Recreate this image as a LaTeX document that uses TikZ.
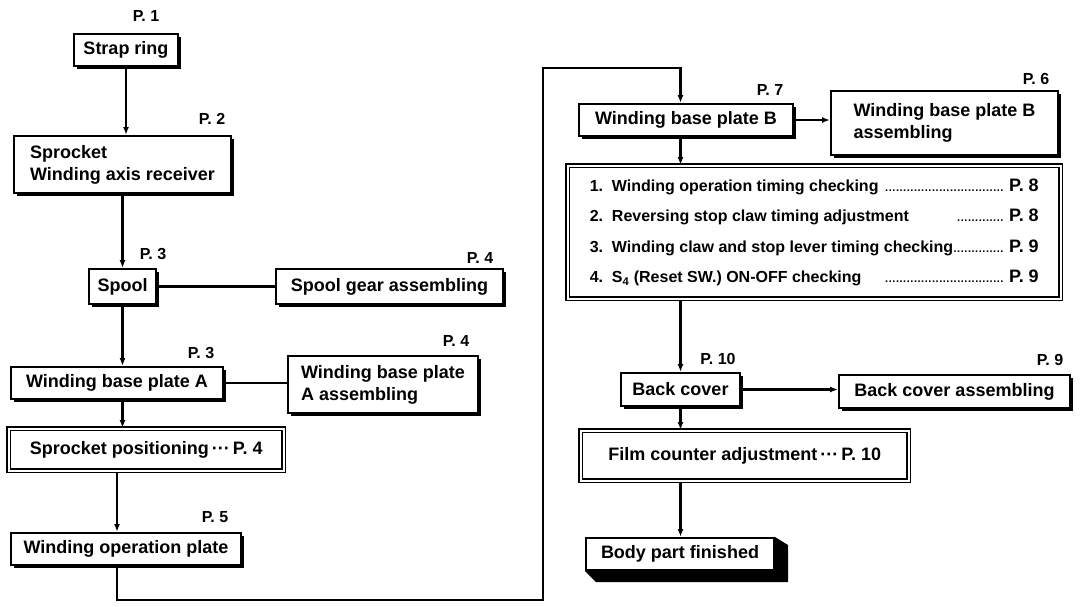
\documentclass[tikz,border=0pt]{standalone}
\usepackage{fontspec}
\setmainfont{Liberation Sans}
\usetikzlibrary{shadows,backgrounds,arrows.meta,calc}

\newcommand{\finedots}{\leaders\hbox to 3.6pt{\hss\fontsize{11}{11}\selectfont.\hss}\hfill}
\newcommand{\checkline}[2]{\hbox to 449pt{#1\finedots\ {\fontsize{18}{18}\selectfont #2}}}

\begin{document}
\begin{tikzpicture}[x=1pt, y=-1pt, line width=2.2pt, >={Latex[length=8pt,width=6pt]}]
  % --- Styles ---
  \tikzset{
    stepbox/.style={draw, fill=white, line width=2pt, anchor=north west,
      font=\fontsize{18}{22}\selectfont\bfseries, inner sep=4pt,
      drop shadow={shadow xshift=2.5pt, shadow yshift=-2.5pt, fill=black, opacity=1}},
    checkbox/.style={stepbox, double, double distance=2.2pt, line width=1.5pt},
    pagelabel/.style={font=\fontsize{16}{18}\selectfont\bfseries, inner sep=0pt},
  }
  \useasboundingbox (0,0) rectangle (1087,606);

  % --- Left column ---
  \node[stepbox, minimum width=104pt, minimum height=32pt] (strap) at (73,33) {Strap ring};
  \node[stepbox, minimum width=217pt, minimum height=57pt, align=left] (sprocket) at (13,135)
    {Sprocket\\Winding axis receiver};
  \node[stepbox, minimum width=67pt, minimum height=35pt] (spool) at (88,268) {Spool};
  \node[stepbox, minimum width=227pt, minimum height=35pt] (spoolgear) at (275,268) {Spool gear assembling};
  \node[stepbox, minimum width=212pt, minimum height=32pt] (wbpa) at (10,366) {Winding base plate A};
  \node[stepbox, minimum width=190pt, minimum height=57pt, align=left] (wbpaasm) at (287,355)
    {Winding base plate\\A assembling};
  \node[checkbox, minimum width=275pt, minimum height=42pt] (sprpos) at (8,428) {Sprocket positioning\,···\,P. 4};
  \node[stepbox, minimum width=230pt, minimum height=32pt] (wop) at (10,532) {Winding operation plate};

  % --- Right column ---
  \node[stepbox, minimum width=214pt, minimum height=32pt] (wbpb) at (578,103) {Winding base plate B};
  \node[stepbox, minimum width=227pt, minimum height=64pt, align=left] (wbpbasm) at (830,90)
    {Winding base plate B\\assembling};
  \node[checkbox, minimum width=493pt, minimum height=133pt, align=left,
    font=\fontsize{16}{30.5}\selectfont\bfseries] (list) at (567,165)
    {\checkline{1.\ \ Winding operation timing checking\ }{P. 8}\\
     \checkline{2.\ \ Reversing stop claw timing adjustment\qquad\quad}{P. 8}\\
     \checkline{3.\ \ Winding claw and stop lever timing checking}{P. 9}\\
     \checkline{4.\ \ S\textsubscript{4} (Reset SW.) ON-OFF checking\quad\ }{P. 9}};
  \node[stepbox, minimum width=119pt, minimum height=33pt] (back) at (620,372) {Back cover};
  \node[stepbox, minimum width=231pt, minimum height=33pt] (backasm) at (838,374) {Back cover assembling};
  \node[checkbox, minimum width=328pt, minimum height=50pt] (film) at (580,430) {Film counter adjustment\,···\,P. 10};
  \node[draw, fill=white, line width=2pt, anchor=north west, minimum width=188pt, minimum height=32pt,
    font=\fontsize{18}{22}\selectfont\bfseries] (body) at (585,537) {Body part finished};
  \begin{scope}[on background layer]
    \fill (body.north east) -- ++(13,8) |- ($(body.south west)+(11,11)$) -- (body.south west) -- cycle;
  \end{scope}

  % --- Page labels ---
  \node[pagelabel] (p1) at (146,16) {P. 1};
  \node[pagelabel] (p2) at (212,119) {P. 2};
  \node[pagelabel] (p3a) at (153,254) {P. 3};
  \node[pagelabel] (p4a) at (480,258) {P. 4};
  \node[pagelabel] (p3b) at (201,353) {P. 3};
  \node[pagelabel] (p4b) at (456,341) {P. 4};
  \node[pagelabel] (p5) at (215,517) {P. 5};
  \node[pagelabel] (p7) at (770,90) {P. 7};
  \node[pagelabel] (p6) at (1036,79) {P. 6};
  \node[pagelabel] (p10) at (718,359) {P. 10};
  \node[pagelabel] (p9) at (1050,360) {P. 9};

  % --- Connectors ---
  \coordinate (bottomleft) at (117,600);
  \coordinate (topright) at (543,68);
  \draw[->] (strap.south) -- (strap.south |- sprocket.north);
  \draw[->] (spool.north |- sprocket.south) -- (spool.north);
  \draw (spool.east) -- (spool.east -| spoolgear.west);
  \draw[->] (spool.south) -- (spool.south |- wbpa.north);
  \draw (wbpa.east) -- (wbpa.east -| wbpaasm.west);
  \draw[->] (spool |- wbpa.south) -- (spool |- sprpos.north);
  \draw[->] (bottomleft |- sprpos.south) -- (bottomleft |- wop.north);
  \draw[->] (bottomleft |- wop.south) -- (bottomleft) -| (topright) -| (back |- wbpb.north);
  \draw[->] (wbpb.east) -- (wbpb.east -| wbpbasm.west);
  \draw[->] (back |- wbpb.south) -- (back |- list.north);
  \draw[->] (back |- list.south) -- (back.north);
  \draw[->] (back.east) -- (back.east -| backasm.west);
  \draw[->] (back.south) -- (back.south |- film.north);
  \draw[->] (back |- film.south) -- (back |- body.north);
\end{tikzpicture}
\end{document}
